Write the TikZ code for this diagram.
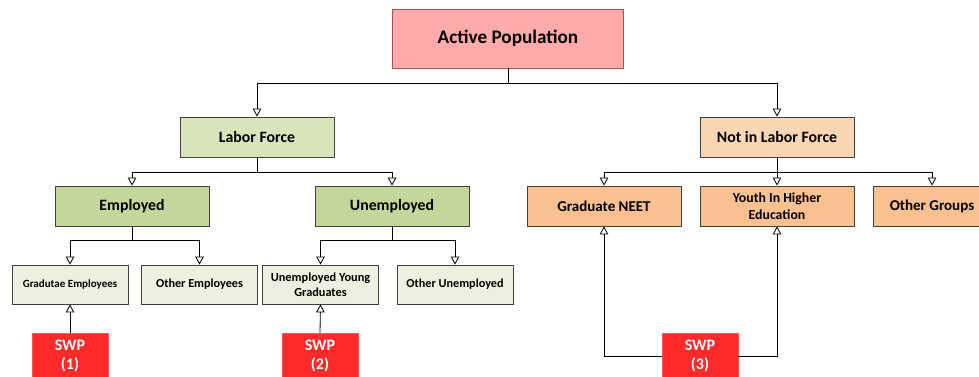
\documentclass[tikz,border=0pt]{standalone}
\usepackage{fontspec}
\setmainfont{Carlito}
\usepackage[rgb]{xcolor}
\usetikzlibrary{arrows.meta}
\definecolor{ap_pink}{HTML}{FFABAB}
\definecolor{ap_red_line}{HTML}{B0504D}
\definecolor{lf_green}{HTML}{D8E4BC}
\definecolor{em_green}{HTML}{C4D79B}
\definecolor{sub_green}{HTML}{EBF1DE}
\definecolor{nl_peach}{HTML}{FCD5B4}
\definecolor{nl_orange}{HTML}{FAC090}
\definecolor{swp_red}{HTML}{FF2A2A}
\definecolor{box_line}{HTML}{404040}

\tikzset{
    box/.style={draw=box_line, line width=0.8pt, inner sep=0pt, align=center, font=\bfseries},
    swpbox/.style={fill=swp_red, draw=swp_red!80!white, inner sep=0pt, align=center,
        text=white, minimum width=76pt, minimum height=46pt, font=\fontsize{16}{18.5}\selectfont\bfseries},
    arr/.style={-{Triangle[open, length=8pt, width=8.5pt]}, line width=0.8pt}
}

\begin{document}
\begin{tikzpicture}[x=1pt, y=-1pt]

    \useasboundingbox (0,0) rectangle (979,376);
    \clip (0,0) rectangle (979,376);

    % top
    \node[box, fill=ap_pink, draw=ap_red_line, minimum width=231pt, minimum height=59pt,
        font=\fontsize{19.2}{22}\selectfont\bfseries] (active) at (508,38.5) {Active Population};

    % second level
    \node[box, fill=lf_green, minimum width=154pt, minimum height=40pt,
        font=\fontsize{15.8}{18}\selectfont\bfseries] (labor) at (257,137) {Labor Force};
    \node[box, fill=nl_peach, minimum width=154pt, minimum height=40pt,
        font=\fontsize{15.8}{18}\selectfont\bfseries] (notlabor) at (777,137) {Not in Labor Force};

    % third level
    \node[box, fill=em_green, minimum width=154pt, minimum height=40pt,
        font=\fontsize{15.8}{18}\selectfont\bfseries] (employed) at (132,206) {Employed};
    \node[box, fill=em_green, minimum width=154pt, minimum height=40pt,
        font=\fontsize{15.8}{18}\selectfont\bfseries] (unemployed) at (392,206) {Unemployed};
    \node[box, fill=nl_orange, minimum width=154pt, minimum height=40pt,
        font=\fontsize{15}{18}\selectfont\bfseries] (neet) at (604,206) {Graduate NEET};
    \node[box, fill=nl_orange, minimum width=154pt, minimum height=40pt,
        font=\fontsize{13.8}{16.5}\selectfont\bfseries] (youth) at (777,206) {Youth In Higher\\Education};
    \node[box, fill=nl_orange, minimum width=118pt, minimum height=40pt,
        font=\fontsize{15}{18}\selectfont\bfseries] (othergroups) at (932,206) {Other Groups};

    % fourth level
    \node[box, fill=sub_green, minimum width=116pt, minimum height=39pt,
        font=\fontsize{11}{14}\selectfont\bfseries] (grademp) at (70,284.5) {Gradutae Employees};
    \node[box, fill=sub_green, minimum width=116pt, minimum height=39pt,
        font=\fontsize{12.2}{14}\selectfont\bfseries] (otheremp) at (199.5,284.5) {Other Employees};
    \node[box, fill=sub_green, minimum width=116pt, minimum height=39pt,
        font=\fontsize{12.3}{14.5}\selectfont\bfseries] (unempyoung) at (320.5,284.5) {Unemployed Young\\Graduates};
    \node[box, fill=sub_green, minimum width=116pt, minimum height=39pt,
        font=\fontsize{12.2}{14}\selectfont\bfseries] (otherunemp) at (455,284.5) {Other Unemployed};

    % swp boxes
    \node[swpbox] (swpone) at (70,356) {SWP\\(1)};
    \node[swpbox] (swptwo) at (320,356) {SWP\\(2)};
    \node[swpbox] (swpthree) at (700,356) {SWP\\(3)};

    % connectors
    \draw[arr] (active.south) -- ++(0,14.5) -| (labor.north);
    \draw[arr] (active.south) -- ++(0,14.5) -| (notlabor.north);
    \draw[arr] (labor.south) -- ++(0,14.5) -| (employed.north);
    \draw[arr] (labor.south) -- ++(0,14.5) -| (unemployed.north);
    \draw[arr] (notlabor.south) -- ++(0,14.5) -| (neet.north);
    \draw[arr] (notlabor.south) -- (youth.north);
    \draw[arr] (notlabor.south) -- ++(0,14.5) -| (othergroups.north);
    \draw[arr] (employed.south) -- ++(0,14) -| (grademp.north);
    \draw[arr] (employed.south) -- ++(0,14) -| (otheremp.north);
    \draw[arr] (unemployed.south) -- ++(0,14) -| (unempyoung.north);
    \draw[arr] (unemployed.south) -- ++(0,14) -| (otherunemp.north);
    \draw[arr] (swpone.north) -- (grademp.south);
    \draw[arr] (swptwo.north) -- (unempyoung.south);
    \draw[arr] (swpthree.west) -| (neet.south);
    \draw[arr] (swpthree.east) -| (youth.south);

\end{tikzpicture}
\end{document}
